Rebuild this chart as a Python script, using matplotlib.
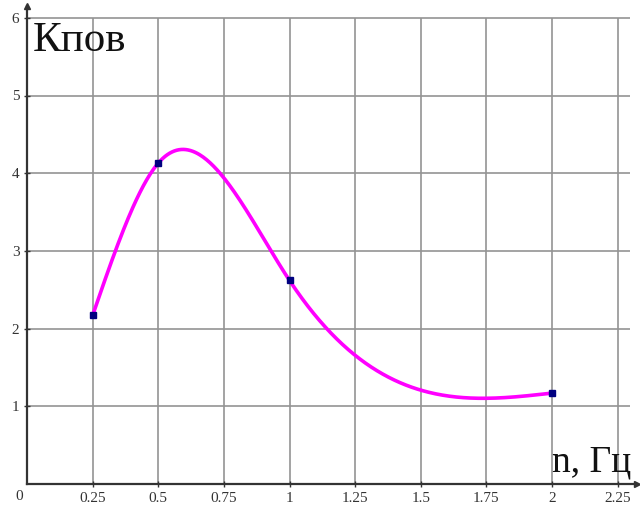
import numpy as np
import matplotlib
matplotlib.use("Agg")
import matplotlib.pyplot as plt

# measured points: frequency n (Hz) and coefficient K_пов
n_hz = [0.25, 0.5, 1.0, 2.0]
k_pov = [2.17, 4.13, 2.62, 1.17]

x_ticks = [0.25, 0.5, 0.75, 1.0, 1.25, 1.5, 1.75, 2.0, 2.25]
x_tick_labels = ["0.25", "0.5", "0.75", "1", "1.25", "1.5", "1.75", "2", "2.25"]
y_ticks = [1, 2, 3, 4, 5, 6]


def natural_spline(xs, ys, num=400):
    # natural cubic spline through the points (second derivative zero at ends)
    xs = np.asarray(xs, float)
    ys = np.asarray(ys, float)
    n = len(xs)
    h = np.diff(xs)
    A = np.zeros((n, n))
    r = np.zeros(n)
    A[0, 0] = A[-1, -1] = 1.0
    for i in range(1, n - 1):
        A[i, i - 1] = h[i - 1]
        A[i, i] = 2 * (h[i - 1] + h[i])
        A[i, i + 1] = h[i]
        r[i] = 6 * ((ys[i + 1] - ys[i]) / h[i] - (ys[i] - ys[i - 1]) / h[i - 1])
    M = np.linalg.solve(A, r)
    xx = np.linspace(xs[0], xs[-1], num)
    idx = np.clip(np.searchsorted(xs, xx) - 1, 0, n - 2)
    x0, x1 = xs[idx], xs[idx + 1]
    hh = x1 - x0
    a = (x1 - xx) / hh
    b = (xx - x0) / hh
    yy = (a * ys[idx] + b * ys[idx + 1]
          + ((a ** 3 - a) * M[idx] + (b ** 3 - b) * M[idx + 1]) * hh ** 2 / 6)
    return xx, yy


plt.rcParams["font.family"] = ["Liberation Serif", "DejaVu Serif"]

fig = plt.figure(figsize=(6.4, 5.07), dpi=100)
ax = fig.add_axes([27 / 640, 23 / 507, 610 / 640, 478 / 507])
x_max = 610 / 262.5
y_max = 478 / 77.7
ax.set_xlim(0, x_max)
ax.set_ylim(0, y_max)

# grid drawn as plain lines so it stops short of the arrows
grid_right = 2.296
ax.hlines(y_ticks, 0, grid_right, colors="#939393", linewidth=1.2, zorder=1)
ax.vlines(x_ticks, 0, 6, colors="#939393", linewidth=1.2, zorder=1)

xx, yy = natural_spline(n_hz, k_pov)
ax.plot(xx, yy, color="#ff00ff", linewidth=2.6, zorder=3)
ax.plot(n_hz, k_pov, linestyle="none", marker="s", markersize=5,
        color="#000080", zorder=4)

for side in ("top", "right"):
    ax.spines[side].set_visible(False)
for side in ("left", "bottom"):
    ax.spines[side].set_color("#333333")
    ax.spines[side].set_linewidth(1.6)

# arrow heads at the ends of both axes
ax.plot([x_max], [0], marker=">", markersize=5, color="#333333", clip_on=False)
ax.plot([0], [y_max], marker="^", markersize=5, color="#333333", clip_on=False)

ax.set_xticks(x_ticks)
ax.set_xticklabels(x_tick_labels)
ax.set_yticks(y_ticks)
ax.set_yticklabels([str(v) for v in y_ticks])
ax.tick_params(direction="inout", length=5, width=1.0, color="#333333",
               labelsize=11, labelcolor="#333333", pad=3)
ax.tick_params(axis="y", pad=3)
ax.text(-0.03, -0.08, "0", fontsize=11, color="#333333", ha="center", va="top",
        clip_on=False)

ax.text(0.02, 5.95, "Кпов", fontsize=31, color="#111111", ha="left", va="top")
ax.text(2.0, 0.16, "n, Гц", fontsize=27, color="#111111", ha="left",
        va="baseline", clip_on=False)

fig.savefig("out.png", dpi=100)
